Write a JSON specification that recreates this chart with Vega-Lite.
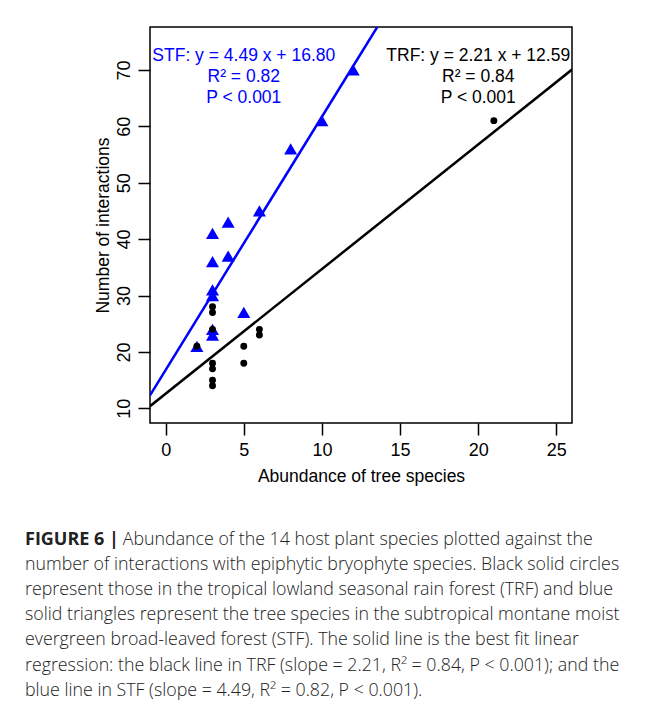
{
  "$schema": "https://vega.github.io/schema/vega-lite/v6.json",
  "width": 422,
  "height": 396,
  "autosize": {"type": "none"},
  "padding": {"left": 150, "top": 27, "right": 85, "bottom": 285},
  "background": "white",
  "config": {
    "view": {"stroke": "black", "strokeWidth": 1.5},
    "font": "Liberation Sans"
  },
  "title": {
    "text": "FIGURE 6 |",
    "orient": "bottom",
    "anchor": "start",
    "frame": "group",
    "dx": -125,
    "offset": 46,
    "font": "Open Sans",
    "fontSize": 18,
    "fontWeight": "bold",
    "color": "#222222",
    "subtitle": [
      "\u200b\u2003\u2003\u2003\u2003\u2003\u2002Abundance of the 14 host plant species plotted against the",
      "number of interactions with epiphytic bryophyte species. Black solid circles",
      "represent those in the tropical lowland seasonal rain forest (TRF) and blue",
      "solid triangles represent the tree species in the subtropical montane moist",
      "evergreen broad-leaved forest (STF). The solid line is the best fit linear",
      "regression: the black line in TRF (slope = 2.21, R² = 0.84, P < 0.001); and the",
      "blue line in STF (slope = 4.49, R² = 0.82, P < 0.001)."
    ],
    "subtitleFont": "Open Sans",
    "subtitleFontSize": 17.8,
    "subtitleFontWeight": 300,
    "subtitleColor": "#222222",
    "subtitleLineHeight": 25.2,
    "subtitlePadding": -18
  },
  "datasets": {
    "stf": [
      {"abundance": 2, "interactions": 21},
      {"abundance": 3, "interactions": 41},
      {"abundance": 3, "interactions": 36},
      {"abundance": 3, "interactions": 31},
      {"abundance": 3, "interactions": 30},
      {"abundance": 3, "interactions": 24},
      {"abundance": 3, "interactions": 23},
      {"abundance": 4, "interactions": 37},
      {"abundance": 4, "interactions": 43},
      {"abundance": 5, "interactions": 27},
      {"abundance": 6, "interactions": 45},
      {"abundance": 8, "interactions": 56},
      {"abundance": 10, "interactions": 61},
      {"abundance": 12, "interactions": 70}
    ],
    "trf": [
      {"abundance": 2, "interactions": 21},
      {"abundance": 3, "interactions": 28},
      {"abundance": 3, "interactions": 27},
      {"abundance": 3, "interactions": 24},
      {"abundance": 3, "interactions": 18},
      {"abundance": 3, "interactions": 17},
      {"abundance": 3, "interactions": 15},
      {"abundance": 3, "interactions": 14},
      {"abundance": 5, "interactions": 21},
      {"abundance": 5, "interactions": 18},
      {"abundance": 6, "interactions": 24},
      {"abundance": 6, "interactions": 23},
      {"abundance": 21, "interactions": 61}
    ],
    "fits": [
      {"forest": "STF", "abundance": -1, "interactions": 12.31},
      {"forest": "STF", "abundance": 13.54, "interactions": 77.6},
      {"forest": "TRF", "abundance": -1, "interactions": 10.38},
      {"forest": "TRF", "abundance": 26, "interactions": 70.05}
    ],
    "notes": [
      {"forest": "STF", "abundance": 5, "interactions": 68.7, "line1": "STF: y = 4.49 x + 16.80", "line2": "R² = 0.82", "line3": "P < 0.001"},
      {"forest": "TRF", "abundance": 20, "interactions": 68.7, "line1": "TRF: y = 2.21 x + 12.59", "line2": "R² = 0.84", "line3": "P < 0.001"}
    ]
  },
  "encoding": {
    "x": {
      "field": "abundance",
      "type": "quantitative",
      "scale": {"domain": [-1, 26], "nice": false, "zero": false},
      "axis": {
        "title": "Abundance of tree species",
        "values": [0, 5, 10, 15, 20, 25],
        "domain": false,
        "grid": false,
        "tickColor": "black",
        "tickWidth": 1.5,
        "tickSize": 12,
        "labelFontSize": 18,
        "labelColor": "black",
        "labelPadding": 6,
        "labelFlush": false,
        "titleFontSize": 17.5,
        "titleFontWeight": "normal",
        "titleColor": "black",
        "titlePadding": 8
      }
    },
    "y": {
      "field": "interactions",
      "type": "quantitative",
      "scale": {"domain": [7.4, 77.6], "nice": false, "zero": false},
      "axis": {
        "title": "Number of interactions",
        "values": [10, 20, 30, 40, 50, 60, 70],
        "domain": false,
        "grid": false,
        "tickColor": "black",
        "tickWidth": 1.5,
        "tickSize": 12,
        "labelFontSize": 18,
        "labelColor": "black",
        "labelAngle": 270,
        "labelAlign": "center",
        "labelBaseline": "alphabetic",
        "labelPadding": 9,
        "labelFlush": false,
        "titleFontSize": 17.5,
        "titleFontWeight": "normal",
        "titleColor": "black",
        "titlePadding": 3
      }
    }
  },
  "layer": [
    {
      "data": {"name": "stf"},
      "mark": {"type": "point", "shape": "triangle-up", "filled": true, "color": "#0000FF", "opacity": 1, "size": 170}
    },
    {
      "data": {"name": "trf"},
      "mark": {"type": "circle", "color": "black", "opacity": 1, "size": 48}
    },
    {
      "data": {"name": "fits"},
      "mark": {"type": "line", "strokeWidth": 2.5, "clip": true},
      "encoding": {
        "detail": {"field": "forest"},
        "color": {"field": "forest", "type": "nominal", "scale": {"domain": ["STF", "TRF"], "range": ["#0000FF", "black"]}, "legend": null}
      }
    },
    {
      "data": {"name": "notes"},
      "mark": {"type": "text", "fontSize": 17.5, "align": "center", "baseline": "middle", "font": "Liberation Sans"},
      "encoding": {
        "text": {"field": "line1"},
        "color": {"field": "forest", "type": "nominal", "scale": {"domain": ["STF", "TRF"], "range": ["#0000FF", "black"]}, "legend": null},
        "yOffset": {"value": -21}
      }
    },
    {
      "data": {"name": "notes"},
      "mark": {"type": "text", "fontSize": 17.5, "align": "center", "baseline": "middle", "font": "Liberation Sans"},
      "encoding": {
        "text": {"field": "line2"},
        "color": {"field": "forest", "type": "nominal", "scale": {"domain": ["STF", "TRF"], "range": ["#0000FF", "black"]}, "legend": null}
      }
    },
    {
      "data": {"name": "notes"},
      "mark": {"type": "text", "fontSize": 17.5, "align": "center", "baseline": "middle", "font": "Liberation Sans"},
      "encoding": {
        "text": {"field": "line3"},
        "color": {"field": "forest", "type": "nominal", "scale": {"domain": ["STF", "TRF"], "range": ["#0000FF", "black"]}, "legend": null},
        "yOffset": {"value": 21}
      }
    }
  ]
}
